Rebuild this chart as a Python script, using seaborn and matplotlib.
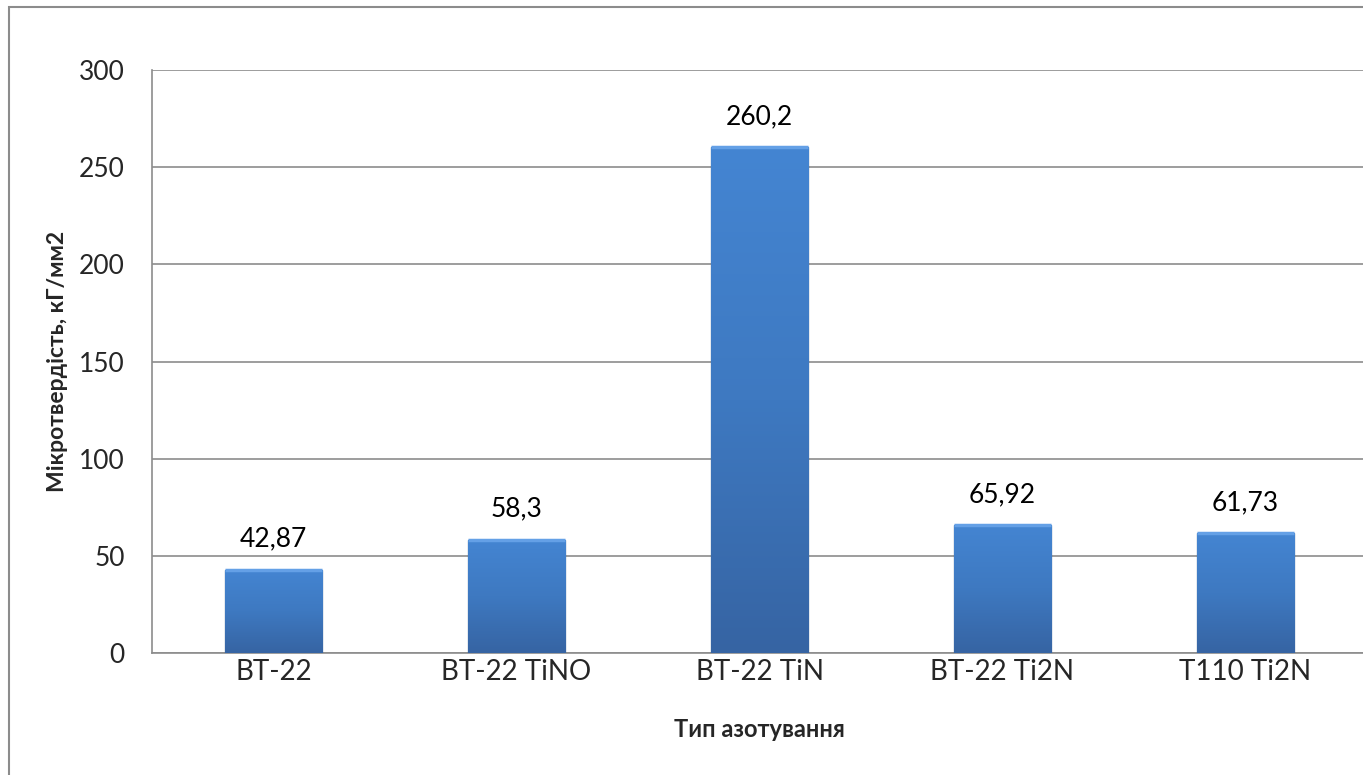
import matplotlib.pyplot as plt
import matplotlib.patches as mpatches
from matplotlib.colors import LinearSegmentedColormap
import seaborn as sns
import numpy as np
import pandas as pd

categories = ['BT-22', 'BT-22 TiNO', 'BT-22 TiN', 'BT-22 Ti2N', 'T110 Ti2N']
hardness = [42.87, 58.3, 260.2, 65.92, 61.73]
y_ticks = [0, 50, 100, 150, 200, 250, 300]

sns.set_style('white')
plt.rcParams['font.family'] = ['Lato', 'Open Sans', 'DejaVu Sans']

df = pd.DataFrame({'cat': categories, 'val': hardness})

fig = plt.figure(figsize=(13.63, 7.75), dpi=100)
ax = fig.add_axes([152 / 1363, 122 / 775, 1215 / 1363, 583 / 775])

sns.barplot(data=df, x='cat', y='val', ax=ax, color='#3f78c0', width=0.4,
            edgecolor='#2a5080', linewidth=0.9, zorder=3)

# Excel-like gradient fill clipped to each bar: lighter top, darker bottom
cmap = LinearSegmentedColormap.from_list('bevel', ['#4485d2', '#3e79c1', '#3664a3'])
grad = np.linspace(0, 1, 256).reshape(-1, 1)
for p in ax.patches:
    x0, y0, w, h = p.get_x(), p.get_y(), p.get_width(), p.get_height()
    im = ax.imshow(grad, cmap=cmap, aspect='auto', origin='upper',
                   extent=(x0, x0 + w, y0, y0 + h), zorder=3.5, interpolation='bicubic')
    im.set_clip_path(p)
    # soft bevel highlight along the top edge
    ax.plot([x0, x0 + w], [y0 + h, y0 + h], color='#64a0e6', linewidth=2.5,
            zorder=3.6, solid_capstyle='butt')
ax.set_xlim(-0.5, len(categories) - 0.5)
ax.set_ylim(0, 300)

for p, v in zip(ax.patches, hardness):
    lbl = f'{v:g}'.replace('.', ',')
    ax.annotate(lbl, (p.get_x() + p.get_width() / 2, p.get_height()),
                xytext=(0, 13), textcoords='offset points', ha='center', va='bottom',
                fontsize=19, color='black')

ax.set_yticks(y_ticks)
ax.yaxis.grid(True, color='#8c8c8c', linewidth=1.2, zorder=0)
ax.set_axisbelow(True)
for s in ['top', 'right']:
    ax.spines[s].set_visible(False)
ax.spines['left'].set_color('#8c8c8c')
ax.spines['bottom'].set_color('#8c8c8c')
ax.spines['left'].set_linewidth(1.2)
ax.spines['bottom'].set_linewidth(1.2)
ax.tick_params(axis='y', length=7.5, width=1.2, color='#8c8c8c', pad=12, labelsize=19)
ax.tick_params(axis='x', length=0, pad=4, labelsize=20)

ax.set_ylabel('Мікротвердість, кГ/мм2', fontsize=16.5, fontweight='bold', labelpad=8)
ax.set_xlabel('Тип азотування', fontsize=17, fontweight='bold', labelpad=24)

# outer chart border
fig.patches.append(mpatches.Rectangle((9 / 1363, -0.1), 1.2, 1.1 - 7 / 775, transform=fig.transFigure,
                                      fill=False, edgecolor='#8c8c8c', linewidth=1.5))

fig.savefig('out.png', dpi=100)
plt.close()
